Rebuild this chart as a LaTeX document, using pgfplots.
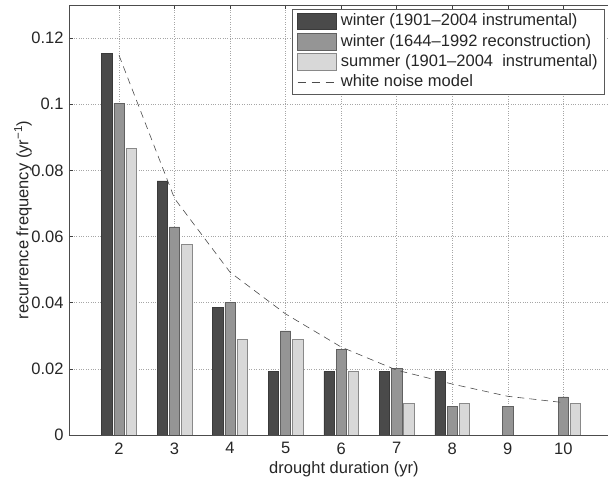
\documentclass[border=0pt]{standalone}
\usepackage{fontspec}
\setmainfont{Liberation Sans}
\usepackage{pgfplots}
\pgfplotsset{compat=1.18}

\definecolor{barD}{HTML}{4A4A4A}
\definecolor{barM}{HTML}{959595}
\definecolor{barL}{HTML}{D8D8D8}
\definecolor{edge}{HTML}{3A3A3A}

\newcommand{\fs}{\fontsize{16.5}{19}\selectfont}

\begin{document}
\begin{tikzpicture}
\begin{axis}[
    scale only axis,
    width=549.9pt,
    height=430pt,
    xmin=1.1, xmax=11,
    ymin=0, ymax=0.13,
    xtick={2,3,4,5,6,7,8,9,10},
    ytick={0,0.02,0.04,0.06,0.08,0.1,0.12},
    scaled y ticks=false,
    /pgf/number format/assume math mode=true,
    yticklabel style={/pgf/number format/fixed, /pgf/number format/precision=2, xshift=-2pt},
    tick label style={font=\fs, black!85},
    xticklabel style={yshift=-4pt},
    tick align=inside,
    major tick length=4pt,
    tick style={black!75, line width=0.5pt},
    axis line style={black!70, line width=0.6pt},
    grid=major,
    grid style={dotted, black!35, line width=0.5pt},
    xlabel={drought duration (yr)},
    ylabel={recurrence frequency (yr\textsuperscript{−1})},
    every axis x label/.style={at={(axis description cs:0.5,0)}, anchor=center, yshift=-34pt, font=\fs, text=black!85},
    every axis y label/.style={at={(axis description cs:0,0.5)}, xshift=-46pt, rotate=90, anchor=center, font=\fs, text=black!85},
    legend style={
        at={(axis description cs:0.9747,0.9907)}, anchor=north east,
        draw=black!65, line width=0.6pt, fill=white,
        font=\fs, text=black!85,
        inner xsep=5pt, inner ysep=2pt,
        row sep=0pt, column sep=2pt,
        nodes={inner sep=2pt, text height=12.5pt, text depth=3.8pt},
    },
    legend cell align={left},
]
\addplot[ybar, bar width=0.185, bar shift=-0.22, fill=barD, draw=edge, line width=0.6pt,
    legend image code/.code={\draw[fill=barD, draw=edge, line width=0.6pt] (0pt,-8.3pt) rectangle (39pt,8.3pt);}]
    coordinates {(2,0.1153) (3,0.0768) (4,0.0385) (5,0.0192) (6,0.0192) (7,0.0193) (8,0.0193)};
\addlegendentry{winter (1901–2004 instrumental)}
\addplot[ybar, bar width=0.185, bar shift=0, fill=barM, draw=edge!80, line width=0.6pt,
    legend image code/.code={\draw[fill=barM, draw=edge!80, line width=0.6pt] (0pt,-8.3pt) rectangle (39pt,8.3pt);}]
    coordinates {(2,0.1003) (3,0.0629) (4,0.0401) (5,0.0315) (6,0.0258) (7,0.0201) (8,0.0087) (9,0.0087) (10,0.0115)};
\addlegendentry{winter (1644–1992 reconstruction)}
\addplot[ybar, bar width=0.185, bar shift=0.22, fill=barL, draw=edge!60, line width=0.6pt,
    legend image code/.code={\draw[fill=barL, draw=edge!60, line width=0.6pt] (0pt,-8.3pt) rectangle (39pt,8.3pt);}]
    coordinates {(2,0.0866) (3,0.0577) (4,0.0288) (5,0.0288) (6,0.0192) (7,0.0096) (8,0.0096) (10,0.0096)};
\addlegendentry{summer (1901–2004~ instrumental)}
\addplot[black!70, line width=0.6pt, dash pattern=on 7pt off 5pt,
    legend image code/.code={\draw[black!70, line width=0.6pt, dash pattern=on 8pt off 6pt] (0pt,0pt) -- (39pt,0pt);}]
    coordinates {(2,0.1148) (3,0.0715) (4,0.0492) (5,0.0366) (6,0.0266) (7,0.0196) (8,0.0154) (9,0.0117) (10,0.0098)};
\addlegendentry{white noise model}
\end{axis}
\pgfresetboundingbox
\useasboundingbox ([shift={(-69pt,-43pt)}]current axis.south west) rectangle ([shift={(539pt,5pt)}]current axis.north west);
\end{tikzpicture}
\end{document}
